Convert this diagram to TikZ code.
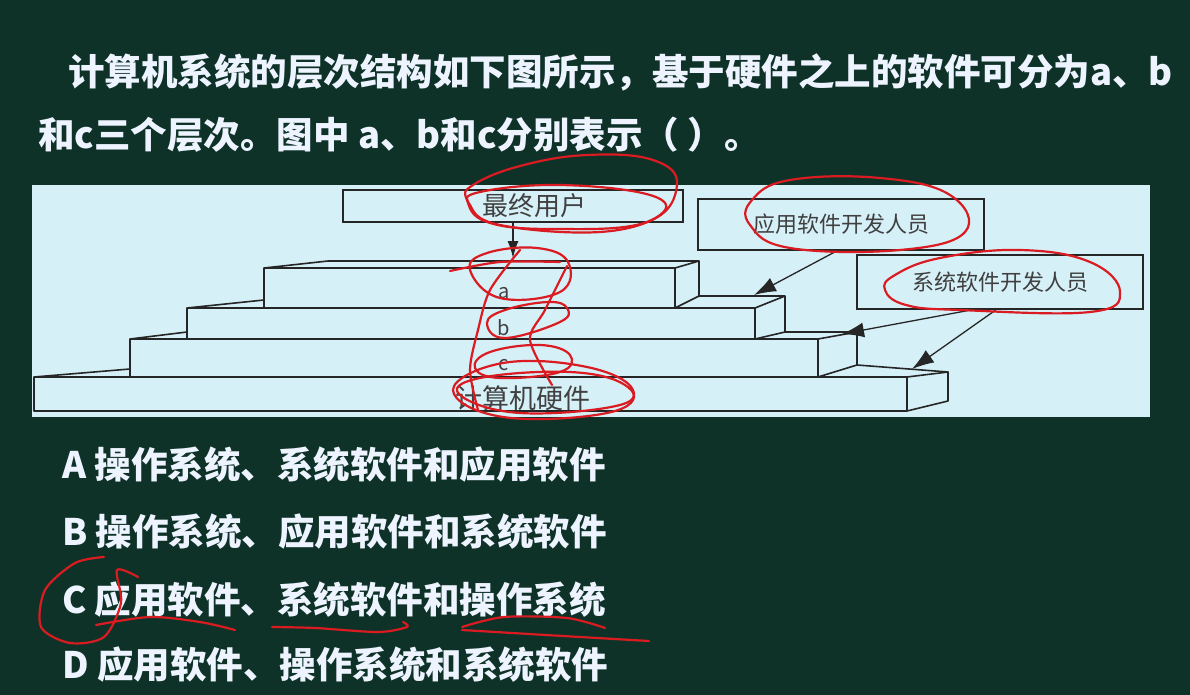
\documentclass[tikz,border=0pt]{standalone}
\usepackage{fontspec}
\setmainfont{Noto Sans CJK SC}
\usepackage{tikz}
\usetikzlibrary{calc,positioning,arrows.meta}
\definecolor{boardgreen}{RGB}{14,50,40}
\definecolor{panelblue}{RGB}{214,240,247}
\definecolor{chalkwhite}{RGB}{238,244,255}
\definecolor{inkred}{RGB}{218,28,34}
\tikzset{
	>={Latex[length=22pt,width=15pt]},
	rolebox/.style={
		rectangle,
		draw=black!85, line width=1.6pt,
		fill=panelblue,
		inner sep=0pt,
		text=black!75,
		font=\fontsize{22}{22}\selectfont},
	stair/.style={draw=black!85, line width=1.6pt, line join=round},
	line/.style={draw=black!85, line width=1.3pt, ->},
	question/.style={
		anchor=west,
		inner sep=0pt,
		text=chalkwhite,
		font=\fontsize{36.5}{40}\selectfont\bfseries},
	layer/.style={inner sep=0pt, text=black!75, font=\fontsize{20}{20}\selectfont},
	redpen/.style={draw=inkred, line width=2.2pt, line cap=round, line join=round},
}

\begin{document}
\begin{tikzpicture}
[x=1pt, y=-1pt]
\fill[boardgreen] (0,0) rectangle (1190,695);
\useasboundingbox (0,0) rectangle (1190,695);
\fill[panelblue] (32,185) rectangle (1150,417);

% question and choices
\node[question] (q1) at (68,72) {计算机系统的层次结构如下图所示，基于硬件之上的软件可分为a、b};
\node[question] (q2) at (38,135) {和c三个层次。图中 a、b和c分别表示（ ）。};
\node[question] (optA) at (62,465) {A 操作系统、系统软件和应用软件};
\node[question] (optB) at (62,532) {B 操作系统、应用软件和系统软件};
\node[question] (optC) at (62,600) {C 应用软件、系统软件和操作系统};
\node[question] (optD) at (62,665) {D 应用软件、操作系统和系统软件};

% the people
\node[rolebox, minimum width=340, minimum height=32,
	label={[layer, font=\fontsize{26}{26}\selectfont, xshift=21pt]center:最终用户}] (user) at (513,206) {};
\node[rolebox, minimum width=286, minimum height=51] (appdev) at (841,224.5) {应用软件开发人员};
\node[rolebox, minimum width=286, minimum height=54] (sysdev) at (1000,282) {系统软件开发人员};

% the steps: front face and right face
\foreach \xl/\xr/\yt/\yb/\xs/\yst/\ysb in {264/675/268/308/699/261/296,
		187/755/308/339/785/296/332, 130/818/339/377/857/332/365, 34/907/377/411/948/372/401}
	\draw[stair] (\xl,\yb) rectangle (\xr,\yt) (\xr,\yt) -- (\xs,\yst) -- (\xs,\ysb) -- (\xr,\yb);
\draw[stair] (264,268) -- (328,261) -- (699,261);
\draw[stair] (187,308) -- (264,300);
\draw[stair] (699,296) -- (785,296);
\draw[stair] (130,339) -- (187,332);
\draw[stair] (785,332) -- (857,332);
\draw[stair] (34,377) -- (130,369);
\draw[stair] (857,365) -- (948,372);

\node[layer] (la) at (504,293) {a};
\node[layer] (lb) at (504,328) {b};
\node[layer] (lc) at (504,365) {c};
\node[layer, font=\fontsize{27}{27}\selectfont] (hw) at (523,398) {计算机硬件};

\coordinate (landA) at (513,258);
\coordinate (landB) at (754,295);
\coordinate (landC) at (842,334);
\coordinate (landH) at (912,369);
\draw[line, -{Latex[length=17pt,width=11pt]}] (user) -- (landA);
\draw[line] ([xshift=-4pt]appdev.south) -- (landB);
\draw[line] ([xshift=-28pt]sysdev.south) -- (landC);
\draw[line] ([xshift=-4pt]sysdev.south) -- (landH);

% pen marks
\draw[redpen] plot[smooth cycle, tension=0.7] coordinates {(467,200) (487,222) (553,229) (647,222) (677,185) (653,160) (587,155) (520,166) (473,185)};
\draw[redpen] plot[smooth cycle, tension=0.7] coordinates {(470,205) (500,225) (600,232) (660,215) (650,195) (560,185) (480,192)};
\draw[redpen] plot[smooth cycle, tension=0.7] coordinates {(470,270) (500,298) (560,292) (568,262) (537,248) (487,253)};
\draw[redpen] plot[smooth] coordinates {(450,271) (500,262) (560,262)};
\draw[redpen] plot[smooth] coordinates {(520,250) (490,290) (478,330) (470,370) (478,410)};
\draw[redpen] plot[smooth] coordinates {(567,266) (545,310) (530,340) (552,385)};
\draw[redpen] plot[smooth cycle, tension=0.7] coordinates {(487,323) (505,338) (560,322) (567,308) (548,302) (505,310)};
\draw[redpen] plot[smooth cycle, tension=0.7] coordinates {(475,368) (500,378) (560,372) (570,355) (540,345) (490,352)};
\draw[redpen] plot[smooth cycle, tension=0.7] coordinates {(453,390) (503,417) (607,413) (633,390) (587,367) (503,363)};
\draw[redpen] plot[smooth cycle, tension=0.7] coordinates {(460,395) (520,413) (620,405) (625,385) (570,372) (480,378)};
\draw[redpen] plot[smooth cycle, tension=0.7] coordinates {(750,225) (790,248) (900,250) (965,232) (950,195) (880,178) (790,180) (752,200)};
\draw[redpen] plot[smooth cycle, tension=0.7] coordinates {(885,290) (906,305) (960,310) (1090,312) (1120,292) (1090,262) (1020,250) (940,258) (895,275)};
\draw[redpen] plot[smooth] coordinates {(104,557) (75,563) (45,590) (41,627) (70,643) (104,637) (121,603) (117,570) (138,577)};
\draw[redpen] plot[smooth] coordinates {(96,625) (150,617) (200,622) (235,630)};
\draw[redpen] plot[smooth] coordinates {(272,627) (315,628) (378,632) (407,627) (403,622)};
\draw[redpen] plot[smooth] coordinates {(462,627) (504,617) (567,618) (605,628)};
\draw[redpen] plot[smooth] coordinates {(462,630) (546,635) (649,641)};
\end{tikzpicture}
\end{document}
